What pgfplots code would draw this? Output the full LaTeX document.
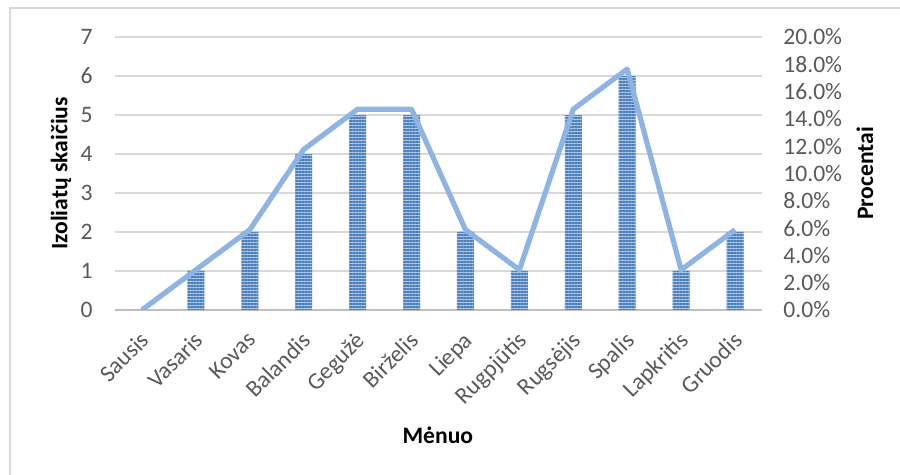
\documentclass[border=0pt]{standalone}
\usepackage{pgfplots}
\pgfplotsset{compat=1.18}
\usepackage{fontspec}
\setmainfont{Carlito}[BoldFont={Carlito Bold}]
\usetikzlibrary{patterns.meta}

\definecolor{ticktext}{HTML}{595959}
\definecolor{gridgray}{HTML}{D9D9D9}
\definecolor{zerogray}{HTML}{BFBFBF}
\definecolor{linebl}{HTML}{8DB4E2}
\definecolor{barlight}{HTML}{A9C4E6}
\definecolor{bardark}{HTML}{4A7EBB}

\newcommand{\chartfont}{\fontsize{11.8}{14}\selectfont}
\newcommand{\titlefont}{\fontsize{11.8}{14}\selectfont\bfseries}

\pgfplotsset{
  monthaxis/.style={
    width=323.5pt, height=136.5pt, scale only axis,
    at={(0,0)}, anchor=south west,
    xmin=-0.5, xmax=11.5,
    ymin=0,
    major tick length=0pt,
    /pgf/number format/assume math mode=true,
    tick label style={font=\chartfont, text=ticktext},
  },
}

\begin{document}
\begin{tikzpicture}
\useasboundingbox (-57.5pt,-82.5pt) rectangle (392.5pt,155pt);
% chart frame
\draw[gridgray, line width=0.8pt] (-52.5pt,-82.5pt) -- (-52.5pt,151pt) -- (392.5pt,151pt);

% counts per month (bars)
\begin{axis}[monthaxis,
  ymax=7, ytick distance=1,
  axis x line*=bottom, axis y line*=left,
  x axis line style={draw=zerogray, line width=1.3pt, -},
  y axis line style={draw=none},
  ymajorgrids, grid style={gridgray, line width=0.8pt},
  xtick={0,...,11},
  xticklabels={Sausis,Vasaris,Kovas,Balandis,Gegužė,Birželis,Liepa,Rugpjūtis,Rugsėjis,Spalis,Lapkritis,Gruodis},
  xticklabel style={anchor=north east, inner sep=0pt, xshift=-1.5pt, yshift=-10pt, rotate=45},
  yticklabel style={anchor=east, inner sep=0pt, xshift=-11pt},
  ylabel={Izoliatų skaičius},
  every axis y label/.style={at={(axis description cs:-0.0835,0.5)}, rotate=90, anchor=center, font=\titlefont, text=black},
  xlabel={Mėnuo},
  every axis x label/.style={at={(axis description cs:0.499,-0.458)}, anchor=center, font=\titlefont, text=black},
]
\addplot[ybar, bar width=8.5pt, draw=none, fill=barlight,
  postaction={pattern color=bardark, pattern={Lines[angle=0, distance=1.5pt, line width=0.75pt]}}]
  coordinates {(0,0) (1,1) (2,2) (3,4) (4,5) (5,5) (6,2) (7,1) (8,5) (9,6) (10,1) (11,2)};
\end{axis}

% share of all isolates per month (line)
\begin{axis}[monthaxis,
  ymax=20, ytick distance=2,
  axis x line=none, axis y line*=right,
  y axis line style={draw=none},
  yticklabel={\pgfmathprintnumber[fixed, fixed zerofill, precision=1]{\tick}\%},
  yticklabel style={anchor=west, inner sep=0pt, xshift=10.5pt},
  ylabel={Procentai},
  every axis y label/.style={at={(axis description cs:1.159,0.5)}, rotate=90, anchor=center, font=\titlefont, text=black},
]
\addplot[linebl, line width=2.6pt, line join=round]
  coordinates {(0,0) (1,2.94) (2,5.88) (3,11.76) (4,14.71) (5,14.71) (6,5.88) (7,2.94) (8,14.71) (9,17.65) (10,2.94) (11,5.88)};
\end{axis}
\end{tikzpicture}
\end{document}
